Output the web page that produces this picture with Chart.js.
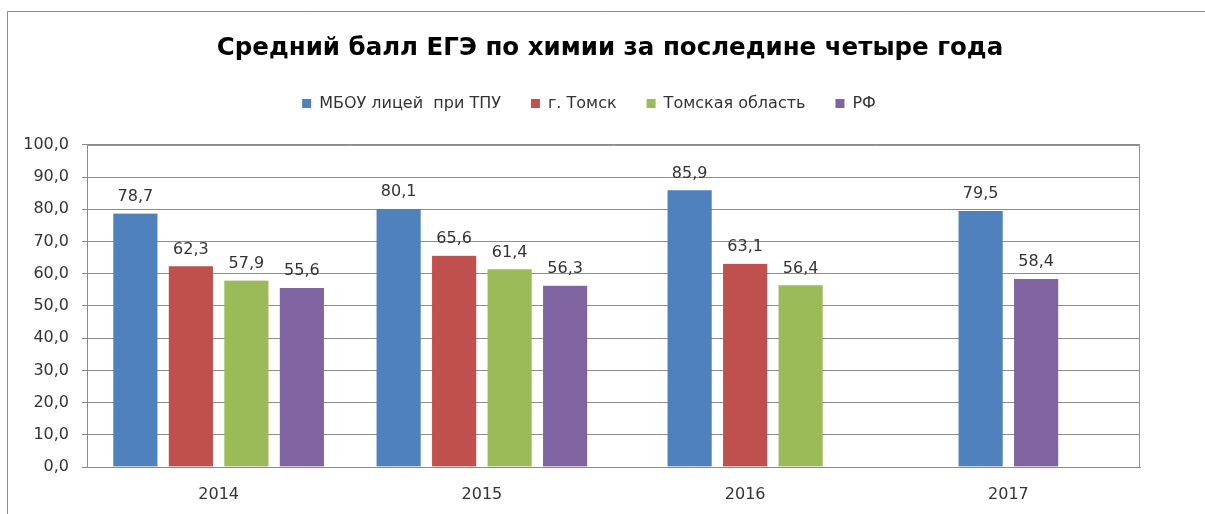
<!DOCTYPE html>
<html lang="ru">
<head>
  <meta charset="UTF-8" />
  <title>Средний балл ЕГЭ по химии</title>
  <script src="https://cdn.jsdelivr.net/npm/chart.js"></script>
  <style>
    html, body { margin: 0; padding: 0; background: #fff; overflow: hidden; }
    #wrap { width: 1205px; height: 514px; }
  </style>
</head>
<body>
  <div id="wrap"><canvas id="chart" width="1205" height="514"></canvas></div>
  <script>
    const years = ['2014', '2015', '2016', '2017'];
    const licey = [78.7, 80.1, 85.9, 79.5];
    const tomsk = [62.3, 65.6, 63.1, null];
    const oblast = [57.9, 61.4, 56.4, null];
    const rf = [55.6, 56.3, null, 58.4];
    const yTicks = [0, 10, 20, 30, 40, 50, 60, 70, 80, 90, 100];

    const FONT = 'DejaVu Sans';
    const fmt = v => v.toFixed(1).replace('.', ',');

    // outer frame of the chart + white background, plot frame, title/legend offsets
    const framePlugin = {
      id: 'frame',
      beforeDraw(chart) {
        const ctx = chart.ctx;
        ctx.save();
        ctx.fillStyle = '#fff';
        ctx.fillRect(0, 0, chart.width, chart.height);
        ctx.strokeStyle = '#8c8c8c';
        ctx.lineWidth = 1;
        ctx.beginPath();
        ctx.moveTo(7.5, chart.height);
        ctx.lineTo(7.5, 11.5);
        ctx.lineTo(chart.width, 11.5);
        ctx.stroke();
        ctx.restore();
      },
      beforeDatasetsDraw(chart) {
        const a = chart.chartArea, ctx = chart.ctx;
        ctx.save();
        ctx.strokeStyle = '#8497b0';
        ctx.lineWidth = 1;
        ctx.beginPath();
        ctx.moveTo(Math.round(a.left) + 0.5, Math.round(a.top) + 0.5);
        ctx.lineTo(Math.round(a.right) - 0.5, Math.round(a.top) + 0.5);
        ctx.lineTo(Math.round(a.right) - 0.5, Math.round(a.bottom));
        ctx.stroke();
        ctx.restore();
      },
      afterLayout(chart) {
        chart.titleBlock.left += 40;
        chart.titleBlock.right += 40;
        chart.legend.left += 19;
        chart.legend.right += 19;
      }
    };

    // value labels above bars
    const valuePlugin = {
      id: 'values',
      afterDatasetsDraw(chart) {
        const ctx = chart.ctx;
        ctx.save();
        ctx.font = `16px "${FONT}"`;
        ctx.fillStyle = '#333';
        ctx.textAlign = 'center';
        ctx.textBaseline = 'alphabetic';
        chart.data.datasets.forEach((ds, i) => {
          chart.getDatasetMeta(i).data.forEach((bar, j) => {
            const v = ds.data[j];
            if (v == null) return;
            ctx.fillText(fmt(v), bar.x, bar.y - 12.5);
          });
        });
        ctx.restore();
      }
    };

    const legendGap = {
      id: 'legendGap',
      beforeInit(chart) {
        const fit = chart.legend.fit;
        chart.legend.fit = function () {
          fit.call(this);
          this.height += 23.5;
        };
      }
    };

    const barStyle = {
      barThickness: 55.5,
      borderWidth: { left: 6, right: 6, top: 0, bottom: 0 },
      borderColor: 'rgba(0,0,0,0)',
      skipNull: true
    };

    new Chart(document.getElementById('chart'), {
      type: 'bar',
      data: {
        labels: years,
        datasets: [
          { label: 'МБОУ лицей  при ТПУ', data: licey, backgroundColor: '#4f81bd', ...barStyle },
          { label: 'г. Томск', data: tomsk, backgroundColor: '#c0504d', ...barStyle },
          { label: 'Томская область', data: oblast, backgroundColor: '#9bbb59', ...barStyle },
          { label: 'РФ', data: rf, backgroundColor: '#8064a2', ...barStyle }
        ]
      },
      options: {
        responsive: false,
        animation: false,
        devicePixelRatio: 1,
        layout: { padding: { left: 0, right: 65, top: 0, bottom: 0 } },
        plugins: {
          title: {
            display: true,
            text: 'Средний балл ЕГЭ по химии за последине четыре года',
            color: '#000',
            font: { family: FONT, size: 24.5, weight: 'bold' },
            padding: { top: 34, bottom: 2 }
          },
          legend: {
            position: 'top',
            labels: {
              boxWidth: 9, boxHeight: 9, padding: 30,
              color: '#333',
              font: { family: FONT, size: 16 }
            }
          },
          tooltip: { enabled: false }
        },
        scales: {
          x: {
            grid: { display: false, drawTicks: false },
            border: { display: true, color: '#8c8c8c' },
            ticks: { color: '#333', font: { family: FONT, size: 16 }, padding: 18 },
            afterFit(s) { s.height = 47; }
          },
          y: {
            min: 0, max: 100,
            afterBuildTicks(s) { s.ticks = yTicks.map(v => ({ value: v })); },
            grid: { color: '#8c8c8c', tickLength: 5 },
            border: { display: true, color: '#8c8c8c' },
            ticks: {
              color: '#333', font: { family: FONT, size: 16 }, padding: 13,
              callback: v => fmt(v)
            },
            afterFit(s) { s.width = 87; }
          }
        }
      },
      plugins: [framePlugin, valuePlugin, legendGap]
    });
  </script>
</body>
</html>
